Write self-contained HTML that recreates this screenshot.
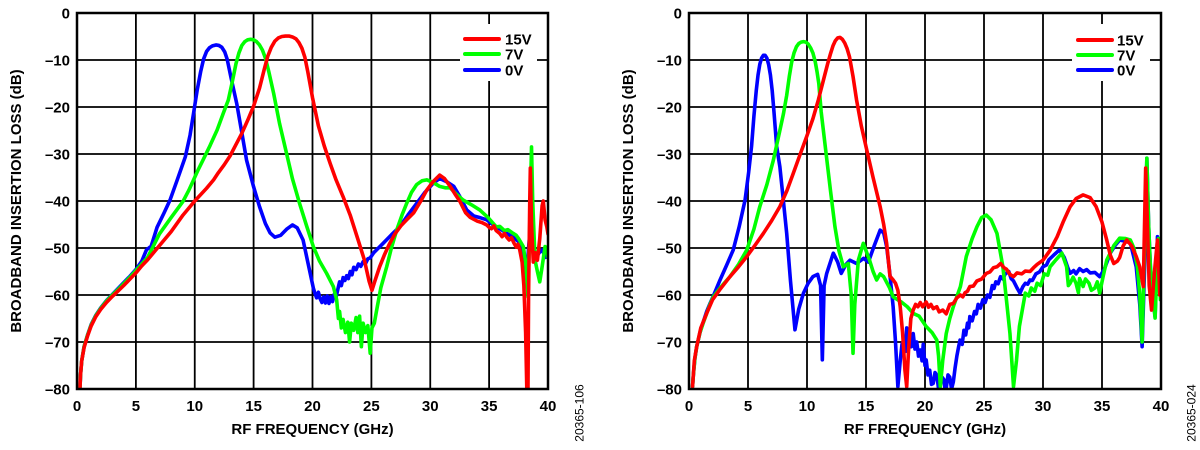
<!DOCTYPE html>
<html>
<head>
<meta charset="utf-8">
<style>
html,body{margin:0;padding:0;background:#fff;}
svg{display:block;}
text{font-family:"Liberation Sans",Arial,sans-serif;}
.tk{font-size:15px;font-weight:bold;fill:#000;}
.ttl{font-size:15px;font-weight:bold;fill:#000;}
.code{font-size:12px;fill:#000;}
.grid line{stroke:#000;stroke-width:1.8;}
.crv{fill:none;stroke-width:3.6;stroke-linejoin:round;stroke-linecap:round;vector-effect:non-scaling-stroke;}
</style>
</head>
<body>
<svg width="1200" height="450" viewBox="0 0 1200 450" xmlns="http://www.w3.org/2000/svg">
<defs>
<clipPath id="c1"><rect x="77" y="13" width="471" height="376"/></clipPath>
<clipPath id="c2"><rect x="689" y="13" width="472" height="376"/></clipPath>
</defs>
<rect width="1200" height="450" fill="#fff"/>

<!-- LEFT CHART -->
<g class="grid">
<line x1="135.9" y1="13" x2="135.9" y2="389"/>
<line x1="194.75" y1="13" x2="194.75" y2="389"/>
<line x1="253.6" y1="13" x2="253.6" y2="389"/>
<line x1="312.5" y1="13" x2="312.5" y2="389"/>
<line x1="371.4" y1="13" x2="371.4" y2="389"/>
<line x1="430.25" y1="13" x2="430.25" y2="389"/>
<line x1="489.1" y1="13" x2="489.1" y2="389"/>
<line x1="77" y1="60" x2="548" y2="60"/>
<line x1="77" y1="107" x2="548" y2="107"/>
<line x1="77" y1="154" x2="548" y2="154"/>
<line x1="77" y1="201" x2="548" y2="201"/>
<line x1="77" y1="248" x2="548" y2="248"/>
<line x1="77" y1="295" x2="548" y2="295"/>
<line x1="77" y1="342" x2="548" y2="342"/>
</g>
<g clip-path="url(#c1)">
<g transform="translate(77,13) scale(11.775,-4.7)">
<polyline class="crv" stroke="#0000ff" points="0.25,-80 0.3,-77 0.4,-74 0.6,-71 0.9,-68.5 1.2,-66.3 1.6,-64.3 2,-62.8 2.5,-61.2 3,-59.9 3.5,-58.6 4,-57.3 4.5,-56 5,-54.6 5.5,-52.8 5.9,-50.4 6.3,-49.6 6.8,-45.6 7.4,-42.5 7.9,-39.8 8.5,-35.6 9.2,-30.6 9.6,-26 9.9,-21.3 10.2,-16.5 10.5,-12.5 10.75,-9.8 11,-8.2 11.25,-7.4 11.5,-7 11.8,-6.8 12.05,-6.9 12.3,-7.3 12.55,-8.3 12.75,-9.8 13.1,-14 13.56,-19.2 14,-25.5 14.4,-31.3 15,-37 15.5,-41.2 16,-44.8 16.4,-46.8 16.8,-47.7 17.3,-47.3 17.8,-46 18.3,-45.1 18.7,-45.7 19.2,-48.3 19.6,-53 20.07,-58.5 20.2,-59.6 20.35,-60.6 20.5,-59.4 20.65,-60.8 20.8,-61.6 20.95,-60.4 21.1,-61.7 21.25,-60.2 21.4,-61.8 21.55,-60.4 21.7,-61.4 21.85,-59.8 22,-60.5 22.15,-58.8 22.3,-57.2 22.45,-58 22.6,-56.3 22.75,-56.9 22.9,-55.9 23.05,-56.5 23.2,-55 23.35,-55.7 23.5,-54.1 23.7,-54.6 23.9,-53.4 24.1,-53.9 24.3,-52.9 24.5,-53.3 24.7,-52.3 24.9,-52.1 25.2,-51 25.6,-50 26,-49 26.7,-47.2 27.4,-45.5 28.1,-43 28.85,-40.5 29.5,-38.3 30.26,-36.2 30.8,-35.2 31.4,-35.9 32,-36.9 32.5,-39 33.1,-41.9 33.7,-43.2 34.3,-43.6 34.8,-44 35.2,-44.8 35.6,-45.5 36.1,-46.2 36.5,-46.9 37.1,-47.8 37.6,-48.9 37.9,-51.5 38.2,-56 38.35,-50 38.5,-45.5 38.7,-49 39,-52 39.25,-51 39.5,-50.4 39.8,-52 40,-50"/>
<polyline class="crv" stroke="#00ff00" points="0.25,-80 0.3,-77 0.4,-74 0.6,-71 0.9,-68.5 1.2,-66.4 1.6,-64.4 2,-62.9 2.5,-61.3 3,-60 3.5,-58.8 4,-57.5 4.5,-56.2 5,-54.8 5.5,-53.4 6,-52 7,-47 8,-43.5 9,-40.1 9.5,-37.7 9.9,-35.5 10.3,-33.3 10.7,-31.3 11.3,-28.2 11.9,-24.9 12.4,-21.5 12.85,-18.5 13.2,-14.5 13.5,-10.8 13.75,-8.5 14,-6.9 14.25,-6.1 14.5,-5.7 14.75,-5.6 15,-5.7 15.25,-6.1 15.5,-6.8 15.75,-7.9 16,-9.6 16.3,-12.6 16.7,-17.1 17.2,-23.5 17.8,-29.9 18.3,-35.3 18.9,-40.5 19.5,-45.3 20.07,-49.7 20.6,-52.8 21.2,-55.4 21.77,-58.2 22.05,-61 22.2,-65 22.3,-63.5 22.45,-67 22.6,-65.2 22.8,-68 23,-65.8 23.15,-70 23.3,-66 23.5,-67.5 23.7,-64.8 23.85,-68 24,-64.5 24.15,-71 24.3,-66 24.5,-68 24.7,-66.5 24.9,-72.4 25.05,-67 25.25,-66 25.45,-63.2 25.8,-58.5 26.3,-54 26.7,-50 27.15,-46.2 27.6,-43 28,-40.5 28.4,-38.2 28.85,-36.5 29.3,-35.7 29.7,-35.5 30.2,-36 30.8,-36.9 31.3,-37.2 31.7,-37.2 32.2,-38.5 32.8,-39.8 33.5,-40.8 34.2,-41.9 34.9,-43.5 35.6,-45.5 35.9,-45.4 36.3,-46.3 36.6,-46.1 37.05,-46.9 37.3,-47.3 37.5,-48 37.9,-49.7 38.1,-53 38.3,-60.4 38.45,-45 38.6,-28.5 38.7,-40 38.9,-52.6 39.1,-55 39.3,-57.2 39.5,-54 39.75,-49.7 39.9,-50 40,-52"/>
<polyline class="crv" stroke="#ff0000" points="0.25,-80 0.3,-77 0.4,-74 0.6,-71.2 0.9,-68.7 1.2,-66.6 1.6,-64.6 2,-63.1 2.5,-61.6 3,-60.3 3.5,-59.1 4,-57.9 4.5,-56.6 5,-55.3 5.5,-53.8 6,-52.5 7,-49.5 8,-46.5 9,-43 10,-40 11,-37.3 11.6,-35.5 12,-34 12.5,-32.3 13,-30.4 13.5,-28 14,-25.6 14.5,-22.8 15,-19.8 15.5,-16 15.9,-12 16.2,-9.2 16.5,-7.3 16.8,-6 17.1,-5.3 17.4,-5 17.7,-4.9 18,-4.9 18.3,-5.1 18.6,-5.5 18.85,-6.3 19.1,-7.5 19.35,-9.4 19.6,-12.5 20,-18 20.5,-24 21,-28.3 21.5,-32 22,-35.5 22.6,-39.1 23.2,-43 23.9,-48.5 24.4,-52.5 24.8,-57 25.05,-59 25.3,-57 25.7,-54 26.1,-51.5 26.5,-49.3 27,-47 27.5,-45.3 28,-44 28.6,-42.5 29.2,-40 29.7,-37.7 30.2,-36 30.8,-34.5 31.2,-35.2 31.7,-36.9 32.1,-38.5 32.5,-40 33,-42.5 33.4,-43.5 34,-44.3 34.4,-44.6 34.8,-45.1 35,-45.6 35.2,-45.9 35.4,-45.3 35.6,-46.3 35.9,-46.9 36.1,-47.6 36.3,-46.9 36.5,-47.7 36.7,-48.3 36.9,-47.8 37.1,-48.9 37.3,-49.8 37.45,-49.2 37.6,-50.4 37.8,-53 37.95,-58 38.1,-68 38.2,-80 38.3,-80 38.35,-60 38.45,-40 38.5,-33 38.6,-45 38.75,-53 38.9,-51 39.1,-52.6 39.3,-48 39.5,-41 39.6,-40 39.75,-44 39.9,-45.5 40,-47"/>
</g>
</g>
<rect x="77" y="13" width="471" height="376" fill="none" stroke="#000" stroke-width="2.5"/>
<!-- left legend -->
<rect x="460" y="24" width="77" height="57" fill="#fff"/>
<line x1="465" y1="39" x2="499" y2="39" stroke="#ff0000" stroke-width="4" stroke-linecap="round"/>
<line x1="465" y1="54" x2="499" y2="54" stroke="#00ff00" stroke-width="4" stroke-linecap="round"/>
<line x1="465" y1="70" x2="499" y2="70" stroke="#0000ff" stroke-width="4" stroke-linecap="round"/>
<text class="tk" x="505" y="44.5">15V</text>
<text class="tk" x="505" y="59.5">7V</text>
<text class="tk" x="505" y="75.5">0V</text>
<!-- left y ticks -->
<g class="tk" text-anchor="end">
<text x="70" y="18.5">0</text>
<text x="70" y="65.5">–10</text>
<text x="70" y="112.5">–20</text>
<text x="70" y="159.5">–30</text>
<text x="70" y="206.5">–40</text>
<text x="70" y="253.5">–50</text>
<text x="70" y="300.5">–60</text>
<text x="70" y="347.5">–70</text>
<text x="70" y="394.5">–80</text>
</g>
<g class="tk" text-anchor="middle">
<text x="77" y="411">0</text>
<text x="135.9" y="411">5</text>
<text x="194.75" y="411">10</text>
<text x="253.6" y="411">15</text>
<text x="312.5" y="411">20</text>
<text x="371.4" y="411">25</text>
<text x="430.25" y="411">30</text>
<text x="489.1" y="411">35</text>
<text x="548" y="411">40</text>
</g>
<text class="ttl" text-anchor="middle" transform="translate(21,201) rotate(-90)">BROADBAND INSERTION LOSS (dB)</text>
<text class="ttl" text-anchor="middle" x="312.5" y="434">RF FREQUENCY (GHz)</text>
<text class="code" text-anchor="middle" transform="translate(583.5,413) rotate(-90)">20365-106</text>

<!-- RIGHT CHART -->
<g class="grid">
<line x1="748" y1="13" x2="748" y2="389"/>
<line x1="807" y1="13" x2="807" y2="389"/>
<line x1="866" y1="13" x2="866" y2="389"/>
<line x1="925" y1="13" x2="925" y2="389"/>
<line x1="984" y1="13" x2="984" y2="389"/>
<line x1="1043" y1="13" x2="1043" y2="389"/>
<line x1="1102" y1="13" x2="1102" y2="389"/>
<line x1="689" y1="60" x2="1161" y2="60"/>
<line x1="689" y1="107" x2="1161" y2="107"/>
<line x1="689" y1="154" x2="1161" y2="154"/>
<line x1="689" y1="201" x2="1161" y2="201"/>
<line x1="689" y1="248" x2="1161" y2="248"/>
<line x1="689" y1="295" x2="1161" y2="295"/>
<line x1="689" y1="342" x2="1161" y2="342"/>
</g>
<g clip-path="url(#c2)">
<g transform="translate(689,13) scale(11.8,-4.7)">
<polyline class="crv" stroke="#0000ff" points="0.3,-79.5 0.37,-77 0.5,-73.5 0.65,-71 0.93,-68 1.2,-65.8 1.5,-63.5 1.78,-61.8 2.1,-60 2.63,-56.8 3.2,-53.6 3.75,-50.4 4.25,-45.5 4.75,-39.8 5.05,-34 5.3,-28.4 5.5,-22 5.7,-16.5 5.85,-13.2 6,-10.9 6.15,-9.6 6.3,-9 6.45,-9 6.6,-9.6 6.75,-11 6.9,-13.2 7.05,-16.5 7.2,-21 7.43,-28.4 7.7,-32.7 8,-40 8.28,-46.9 8.6,-57 8.98,-67.4 9.3,-63 9.7,-59.6 10.1,-57.5 10.5,-56.1 10.9,-55.6 11.15,-58 11.3,-73.8 11.45,-58 11.67,-55.4 12.23,-51.1 12.6,-53 12.9,-55.4 13.3,-53.5 13.64,-52.6 14.2,-53.3 14.8,-52.2 15.2,-53 15.7,-49.5 16.2,-46.2 16.5,-46.8 16.75,-49.7 17,-55 17.3,-62.5 17.5,-70 17.7,-79.5 17.9,-74 18.05,-70.5 18.2,-69.6 18.35,-72 18.45,-67 18.6,-70 18.7,-68.5 18.85,-71 19,-68.2 19.15,-71.5 19.3,-70 19.45,-73 19.6,-71.7 19.75,-74 19.85,-70.5 20,-75 20.1,-73.8 20.25,-77 20.4,-76 20.55,-79 20.7,-78.8 20.85,-76.5 21,-77 21.15,-80 21.3,-79 21.45,-77.5 21.6,-78 21.7,-80 21.8,-79.8 21.95,-77 22.1,-77.5 22.25,-80 22.4,-78.5 22.55,-75.5 22.7,-73 22.85,-71 22.97,-69.6 23.15,-70.5 23.3,-67.5 23.45,-68.5 23.6,-66 23.7,-67 23.8,-64.6 24,-65.5 24.2,-63.5 24.35,-64 24.5,-62 24.7,-62.8 24.9,-61 25.1,-61.6 25.3,-60 25.5,-60.5 25.7,-58 25.85,-58.6 26,-57.2 26.2,-57.6 26.4,-56.1 26.6,-56.6 26.8,-55.5 27.1,-55 27.3,-56.5 27.5,-57 27.8,-58.5 28.05,-59.6 28.3,-58.2 28.5,-57.5 28.7,-57.7 28.9,-56.8 29.1,-56.9 29.4,-55.5 29.7,-55.1 30,-54 30.3,-53.6 30.5,-52.5 31,-51.3 31.4,-50.4 31.8,-52 32.1,-54.2 32.3,-55.4 32.6,-54.8 32.8,-55.5 33.1,-54.4 33.4,-55 33.7,-54.6 34,-55.3 34.4,-55.2 34.8,-56.1 35.2,-54.5 35.7,-51.1 36.1,-49.5 36.5,-48.3 37,-48.6 37.4,-48.9 37.9,-54 38.2,-62 38.4,-71 38.6,-55 38.8,-30.9 38.95,-45 39.1,-54 39.3,-60 39.5,-64.6 39.7,-47.6 39.9,-60 40,-58"/>
<polyline class="crv" stroke="#00ff00" points="0.3,-79.5 0.37,-77 0.5,-73.5 0.65,-71 0.93,-68 1.2,-66 1.5,-63.9 1.78,-62 2.06,-60.4 2.7,-58.3 3.47,-56.1 4.2,-53.5 4.9,-50.4 5.5,-46 6,-41.2 6.6,-36.5 7.15,-31.3 7.7,-25 8,-21.5 8.28,-17.5 8.5,-13.5 8.7,-10.5 8.9,-8.5 9.1,-7.2 9.3,-6.5 9.5,-6.2 9.7,-6.1 9.9,-6.2 10.1,-6.6 10.3,-7.4 10.5,-8.5 10.7,-10.4 10.85,-12.5 11,-15 11.2,-21 11.67,-31 12,-38 12.37,-45.5 12.7,-50.5 13.08,-54 13.5,-53.3 13.75,-60 13.9,-72.4 14.05,-62 14.35,-52.6 14.77,-49 15.3,-52.6 15.6,-55 15.9,-56.8 16.2,-55.5 16.5,-56.1 17,-58.5 17.3,-60.4 18,-61.5 18.5,-62.5 19,-63.9 19.5,-64.5 20.1,-66.7 20.6,-68 21,-69.6 21.15,-73 21.3,-79.5 21.5,-74 21.8,-68.2 22.1,-65 22.4,-62.5 23,-58.2 23.5,-51.8 24,-48 24.4,-45.5 24.8,-43.5 25.2,-43 25.6,-44 26.1,-46.9 26.6,-54 26.9,-61 27.2,-68.2 27.5,-79.5 27.75,-74 28,-66.7 28.5,-59.6 28.8,-60.2 29,-58.5 29.3,-59.2 29.5,-57.5 29.8,-58 30.1,-55.5 30.4,-55.8 30.6,-54 31.1,-52.5 31.6,-51.1 32,-54 32.15,-58 32.3,-57.5 32.55,-56.2 32.8,-57.5 33,-59.5 33.1,-56.5 33.4,-58.2 33.6,-56.6 33.9,-57.5 34.1,-59 34.4,-58.5 34.6,-57.2 34.8,-59.6 35.1,-56 35.4,-52.6 36,-49.5 36.5,-47.9 37,-48 37.4,-48.3 37.7,-50 38,-54 38.2,-60 38.4,-70 38.6,-50 38.8,-30.9 38.95,-45 39.1,-54 39.3,-60 39.5,-64.9 39.65,-55 39.8,-48 39.95,-61"/>
<polyline class="crv" stroke="#ff0000" points="0.3,-79.5 0.45,-74 0.65,-71 1,-67 1.5,-63.9 2,-61 2.6,-58.9 3.47,-56.1 4.2,-54 4.9,-51.8 5.6,-49.4 6.3,-46.9 7,-44.2 7.7,-41.2 8.3,-37.8 8.84,-34.1 9.4,-30.2 9.97,-26.3 10.5,-22.5 10.96,-18.5 11.4,-14.2 11.75,-10.8 12,-8.6 12.2,-7 12.4,-5.9 12.6,-5.3 12.8,-5.2 13,-5.6 13.2,-6.4 13.4,-7.6 13.6,-9.3 13.9,-13.5 14.2,-18.5 14.6,-24 15.06,-29.1 15.6,-35 16.2,-41.2 16.5,-45 16.75,-49 17.03,-56 17.3,-56.8 17.5,-57.5 17.7,-59 17.9,-62.5 18.1,-68 18.3,-76 18.45,-79.5 18.6,-72 18.8,-65 19,-63.2 19.2,-62 19.4,-62.5 19.6,-61.6 19.8,-62.5 20.1,-61.5 20.3,-62.6 20.5,-62 20.7,-62.9 21,-62.5 21.2,-63.6 21.5,-63.2 21.8,-64 22.1,-62 22.4,-61.8 22.7,-60.6 23,-60 23.2,-60.4 23.4,-59.5 23.6,-59.2 23.8,-58.2 24.1,-58.1 24.4,-57 24.8,-56.6 25.2,-55.4 25.5,-55.1 25.8,-54.2 26.1,-54 26.4,-53.3 26.7,-54.2 26.9,-54.5 27.2,-55.6 27.5,-56.1 27.8,-55.3 28.2,-55.5 28.5,-54.9 28.9,-55 29.2,-54.2 29.5,-53.5 30,-52.6 30.6,-50.5 31.2,-47.6 31.7,-44.5 32.3,-41.2 32.8,-39.5 33.4,-38.7 34,-39.3 34.5,-41.2 35,-44.5 35.4,-48.3 35.7,-51.5 36,-53.3 36.3,-52.8 36.5,-52 36.8,-49.5 37.1,-48.3 37.5,-49.5 37.9,-51.8 38.2,-54 38.5,-58.2 38.7,-33 38.85,-45 39,-58 39.2,-63.2 39.45,-55 39.7,-48.3 39.9,-60 40,-56"/>
</g>
</g>
<rect x="689" y="13" width="472" height="376" fill="none" stroke="#000" stroke-width="2.5"/>
<!-- right legend -->
<rect x="1072" y="24" width="78" height="57" fill="#fff"/>
<line x1="1078" y1="40" x2="1112" y2="40" stroke="#ff0000" stroke-width="4" stroke-linecap="round"/>
<line x1="1078" y1="55" x2="1112" y2="55" stroke="#00ff00" stroke-width="4" stroke-linecap="round"/>
<line x1="1078" y1="70" x2="1112" y2="70" stroke="#0000ff" stroke-width="4" stroke-linecap="round"/>
<text class="tk" x="1117" y="45.5">15V</text>
<text class="tk" x="1117" y="60.5">7V</text>
<text class="tk" x="1117" y="75.5">0V</text>
<g class="tk" text-anchor="end">
<text x="682" y="18.5">0</text>
<text x="682" y="65.5">–10</text>
<text x="682" y="112.5">–20</text>
<text x="682" y="159.5">–30</text>
<text x="682" y="206.5">–40</text>
<text x="682" y="253.5">–50</text>
<text x="682" y="300.5">–60</text>
<text x="682" y="347.5">–70</text>
<text x="682" y="394.5">–80</text>
</g>
<g class="tk" text-anchor="middle">
<text x="689" y="411">0</text>
<text x="748" y="411">5</text>
<text x="807" y="411">10</text>
<text x="866" y="411">15</text>
<text x="925" y="411">20</text>
<text x="984" y="411">25</text>
<text x="1043" y="411">30</text>
<text x="1102" y="411">35</text>
<text x="1161" y="411">40</text>
</g>
<text class="ttl" text-anchor="middle" transform="translate(633,201) rotate(-90)">BROADBAND INSERTION LOSS (dB)</text>
<text class="ttl" text-anchor="middle" x="925" y="434">RF FREQUENCY (GHz)</text>
<text class="code" text-anchor="middle" transform="translate(1195.5,413) rotate(-90)">20365-024</text>
</svg>
</body>
</html>
